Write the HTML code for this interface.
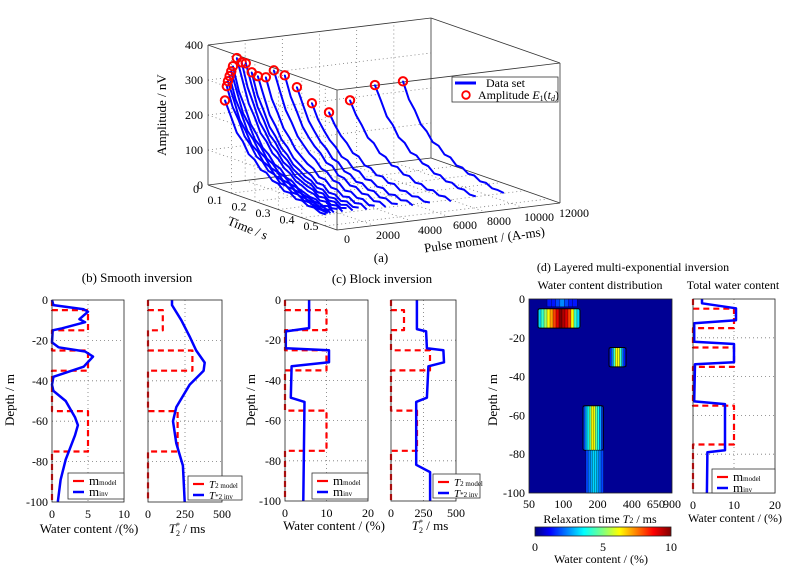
<!DOCTYPE html>
<html><head><meta charset="utf-8"><style>
html,body{margin:0;padding:0;background:#fff;}
svg{display:block;font-family:"Liberation Serif",serif;}
</style></head><body>
<svg id="fig" width="810" height="567" viewBox="0 0 810 567" xmlns="http://www.w3.org/2000/svg">
<defs>
<linearGradient id="jetg" x1="0" x2="1" y1="0" y2="0">
<stop offset="0" stop-color="#000080"/><stop offset="0.11" stop-color="#0000ff"/><stop offset="0.36" stop-color="#00ffff"/><stop offset="0.5" stop-color="#80ff80"/><stop offset="0.62" stop-color="#ffff00"/><stop offset="0.87" stop-color="#ff0000"/><stop offset="1" stop-color="#800000"/>
</linearGradient>
</defs>
</svg>
<script>
// ===== Panel (a) data =====
const pulseMoments = [660,760,820,910,1000,1090,1300,1560,1780,2100,2430,2860,3290,3880,4530,5340,6260,7390,8730,10240];
const initialAmps = [242,282,296,310,323,337,359,345,341,313,300,294,311,293,255,204,172,199,234,235];
const decayFactor = [1,0.82,0.68,0.57,0.48,0.41,0.35,0.3,0.26,0.22,0.19,0.165,0.14,0.12,0.105,0.09,0.08,0.07];
const noiseNv = [0,4,-3,5,-4,3,-5,4,-3,4,-4,3,-3,4,-2,3,-3,0];
const ampTicks = [0,100,200,300,400];
const timeTicks = [0.1,0.2,0.3,0.4,0.5];
const pulseTicks = [0,2000,4000,6000,8000,10000,12000];
// ===== Panel (b)/(c)/(d) data =====
const modelDepths = [0,-5,-15,-25,-35,-55,-75,-100];
const modelWc5 = [0,5,0,5,0,5,0];
const modelWc10 = [0,10,0,10,0,10,0];
const modelT2 = [0,100,0,300,0,200,0];
const smoothWcDepth = [0,-2.5,-4.6,-5.8,-9.5,-11,-14,-15,-21,-23.4,-25.5,-28,-33,-38,-42,-45,-50,-58,-62,-67,-79,-89,-100];
const smoothWcVal = [0,0.2,4.4,5,3.8,4.6,1.4,0.1,0,0.9,4.6,5.7,4.4,0.2,0,0.2,1.9,3.2,3.6,3.2,1.9,1.2,0.8];
const smoothT2Depth = [0,-2.5,-10,-18,-25,-31,-35,-42,-53,-60,-71,-82,-100];
const smoothT2Val = [162,162,225,281,326,383,376,281,191,169,191,236,248];
const blockWcDepth = [0,-14,-15.6,-24,-25,-31,-33,-48.6,-50.7,-100];
const blockWcVal = [5.8,5.8,0.2,0.2,10.6,10.6,1.6,1.4,4.7,4.4];
const blockT2Depth = [0,-14.5,-15.6,-24,-25,-31,-33,-48.6,-50.7,-82,-85.6,-100];
const blockT2Val = [199,199,270,276,403,408,288,276,194,194,301,301];
const totalWcDepth = [0,-2.2,-4.8,-11,-12.5,-22,-23.2,-32.6,-33.6,-52.8,-54.2,-78,-79,-100];
const totalWcVal = [2.2,2.2,10.5,10.5,0.3,0.3,10,10,0.5,0.3,7.8,7.8,3.5,3.4];
// heat map blobs: depth range, T2 range, column values (%)
const blobTops = [0,-5,-25,-55,-78];
const blobBottoms = [-4,-15,-35,-78,-100];
const blobT2Lo = [72,60,252,149,158];
const blobT2Hi = [132,140,355,224,224];
const blobValues = [
  [1,1,1.5,2.2,1.5,1,1],
  [3,4,5,6,7,8,9,10,9.5,9,8,6,4,3],
  [1,2,4,6,6,4,2,1],
  [1.5,2.5,3.5,4.5,6,6,4.5,3.5,2.5,1.5],
  [1.5,2,2.5,3,3,2.5,2,1.5]
];
const depthTicks = [0,-20,-40,-60,-80,-100];
const t2LogTicks = [50,100,200,400,650,900];
const cbarTicks = [0,5,10];

const NS = "http://www.w3.org/2000/svg";
const svg = document.getElementById('fig');
function el(tag, attrs, name, parent){
  const e = document.createElementNS(NS, tag);
  for (const k in attrs) e.setAttribute(k, attrs[k]);
  
  
  (parent||svg).appendChild(e);
  return e;
}
function line(x1,y1,x2,y2,name,stroke,w,dash){
  const a = {x1:x1,y1:y1,x2:x2,y2:y2,stroke:stroke||'#000','stroke-width':w||1};
  if (dash) a['stroke-dasharray']=dash;
  return el('line',a,name);
}
function text(x,y,s,name,anchor,size,rot){
  const a = {x:x,y:y,'font-size':size||12,'text-anchor':anchor||'middle',fill:'#000'};
  if (rot) a.transform = 'rotate('+rot+' '+x+' '+y+')';
  const t = el('text',a,name);
  t.textContent = s;
  return t;
}
function span(t,s,attrs){
  const a=document.createElementNS(NS,'tspan');
  for (const k in attrs) a.setAttribute(k,attrs[k]);
  a.textContent=s; t.appendChild(a); return a;
}
function poly(pts,name,stroke,w,dash,fill){
  const a = {points:pts.map(p=>p[0].toFixed(1)+','+p[1].toFixed(1)).join(' '),stroke:stroke,'stroke-width':w,fill:fill||'none','stroke-linejoin':'round'};
  if (dash) a['stroke-dasharray']=dash;
  return el('polyline',a,name);
}

// ===== Panel (a): 3D =====
const O = [208,185], TV=[129,45], QV=[223,-27], AH=140;
function P(t,q,A){ return [O[0]+t/0.55*TV[0]+q/12000*QV[0], O[1]+t/0.55*TV[1]+q/12000*QV[1]-A/400*AH]; }
const gd = '1,3', gc = '#777';
for (const A of ampTicks.slice(1,-1)){
  let a=P(0,0,A), b=P(0.55,0,A); line(a[0],a[1],b[0],b[1],'grid-left-wall',gc,0.8,gd);
  a=P(0,0,A); b=P(0,12000,A); line(a[0],a[1],b[0],b[1],'grid-back-wall',gc,0.8,gd);
}
for (const t of timeTicks){
  let a=P(t,0,0), b=P(t,0,400); line(a[0],a[1],b[0],b[1],'grid-left-wall',gc,0.8,gd);
  a=P(t,0,0); b=P(t,12000,0); line(a[0],a[1],b[0],b[1],'grid-floor',gc,0.8,gd);
}
for (const q of pulseTicks.slice(1,-1)){
  let a=P(0,q,0), b=P(0,q,400); line(a[0],a[1],b[0],b[1],'grid-back-wall',gc,0.8,gd);
  a=P(0,q,0); b=P(0.55,q,0); line(a[0],a[1],b[0],b[1],'grid-floor',gc,0.8,gd);
}
const boxEdges = [[[0,0,0],[0.55,0,0]],[[0.55,0,0],[0.55,12000,0]],[[0,0,0],[0,12000,0]],[[0,12000,0],[0.55,12000,0]],
 [[0,0,0],[0,0,400]],[[0,12000,0],[0,12000,400]],[[0.55,12000,0],[0.55,12000,400]],[[0.55,0,0],[0.55,0,400]],
 [[0,0,400],[0.55,0,400]],[[0.55,0,400],[0.55,12000,400]],[[0.55,12000,400],[0,12000,400]],[[0,12000,400],[0,0,400]]];
for (const e of boxEdges){ const a=P(...e[0]), b=P(...e[1]); line(a[0],a[1],b[0],b[1],'axes-box-edge','#333',0.8); }
const tStart=0.02, tEnd=0.45;
pulseMoments.forEach((q,i)=>{
  const pts = decayFactor.map((f,k)=>{ const t=tStart+(tEnd-tStart)*k/(decayFactor.length-1); return P(t,q,initialAmps[i]*f+noiseNv[(k+i)%noiseNv.length]*(k>0?1:0)); });
  poly(pts,'data-set-curve','#0000ff',2);
});
pulseMoments.forEach((q,i)=>{
  const p=P(tStart,q,initialAmps[i]);
  el('circle',{cx:p[0],cy:p[1],r:4.2,fill:'none',stroke:'#ff0000','stroke-width':2},'amplitude-marker');
  el('circle',{cx:p[0],cy:p[1],r:0.9,fill:'#0000ff'},'amplitude-marker-dot');
});
ampTicks.forEach(A=>{ const p=P(0,0,A); text(p[0]-5,p[1]+4,String(A),'z-tick-label','end',12); });
text(199,193,'0','z-tick-label','end',12);
timeTicks.forEach((t,i)=>{ text(215+i*24,204+i*6.5,String(t),'time-tick-label','middle',12); });
pulseTicks.forEach((q,i)=>{ const xs=[347,388,430,465,499,539,574], ys=[243,239,234,229,225,221,217]; text(xs[i],ys[i],String(q),'pulse-tick-label','middle',12); });
text(246,232,'Time / s','time-axis-title','middle',13,22);
text(485,244,'Pulse moment / (A-ms)','pulse-axis-title','middle',13,-8);
text(166,115,'Amplitude / nV','amplitude-axis-title','middle',13,-90);
text(381,262,'(a)','panel-a-label','middle',13);
el('rect',{x:452,y:77,width:106,height:25,fill:'#fff',stroke:'#333','stroke-width':0.8},'legend-box');
line(455,83,476,83,'legend-data-set-line','#0000ff',3);
text(486,87,'Data set','legend-data-set-label','start',12);
el('circle',{cx:466,cy:95,r:3.8,fill:'none',stroke:'#ff0000','stroke-width':1.8},'legend-amplitude-marker');
const lt=text(478,99,'Amplitude ','legend-amplitude-label','start',12);
span(lt,'E',{'font-style':'italic'});
span(lt,'1',{'font-size':8,dy:2});
span(lt,'(',{dy:-2});
span(lt,'t',{'font-style':'italic'});
span(lt,'d',{'font-size':8,dy:2,'font-style':'italic'});
span(lt,')',{dy:-2});

// ===== Profile plots =====
function profile(cfg){
  const {x0,x1,y0,y1,xmax,xticks,midTick,ylabels,name} = cfg;
  const X = v => x0 + v/xmax*(x1-x0);
  const Y = d => y0 + (-d)/100*(y1-y0);
  for (const d of depthTicks.slice(1,-1)) line(x0,Y(d),x1,Y(d),name+'-grid',gc,0.8,gd);
  line(X(midTick),y0,X(midTick),y1,name+'-grid',gc,0.8,gd);
  const mp=[];
  cfg.model.forEach((v,i)=>{ mp.push([X(v),Y(modelDepths[i])]); mp.push([X(v),Y(modelDepths[i+1])]); });
  poly(mp,name+'-model-line','#ff0000',2.2,'6,4');
  poly(cfg.invD.map((d,i)=>[X(cfg.invV[i]),Y(d)]),name+'-inv-line','#0000ff',2.5);
  el('rect',{x:x0,y:y0,width:x1-x0,height:y1-y0,fill:'none',stroke:'#222','stroke-width':0.8},name+'-frame');
  if (ylabels) depthTicks.forEach(d=>text(x0-4,Y(d)+4,String(d),name+'-y-tick','end',12));
  if (xticks) xticks.forEach(v=>text(X(v),y1+16,String(v),name+'-x-tick','middle',12));
}
function legend(x,y,w,h,l1,s1,l2,s2,name,t2){
  el('rect',{x:x,y:y,width:w,height:h,fill:'#fff',stroke:'#333','stroke-width':0.8},name);
  line(x+5,y+8,x+16,y+8,name+'-model-swatch','#ff0000',2.2);
  line(x+5,y+19,x+16,y+19,name+'-inv-swatch','#0000ff',2.5);
  [[l1,s1,y+12],[l2,s2,y+23]].forEach(([l,s,yy])=>{
    const t=text(x+21,yy,'',name+'-entry','start',t2?11:13);
    span(t,l,t2?{'font-style':'italic'}:{});
    span(t,s,{'font-size':7});
  });
}
function t2Title(x,y,name){
  const t=text(x,y,'',name,'middle',13);
  span(t,'T',{'font-style':'italic'});
  span(t,'*',{'font-size':8,dy:-5});
  span(t,'2',{'font-size':8,dx:-4,dy:8});
  span(t,' / ms',{dy:-3});
}
// (b)
text(137,282,'(b) Smooth inversion','panel-b-title','middle',13);
profile({x0:52,x1:124,y0:300,y1:502,xmax:10,xticks:[0,5,10],midTick:5,ylabels:true,name:'smooth-wc',model:modelWc5,invD:smoothWcDepth,invV:smoothWcVal});
profile({x0:148,x1:222,y0:300,y1:502,xmax:500,xticks:[0,250,500],midTick:250,ylabels:false,name:'smooth-t2',model:modelT2,invD:smoothT2Depth,invV:smoothT2Val});
legend(68,473,56,26,'m','model','m','inv','smooth-wc-legend');
legend(188,476,54,24,'T','2 model','T','*2 inv','smooth-t2-legend',true);
text(14,400,'Depth / m','smooth-depth-title','middle',13,-90);
text(89,533,'Water content /(%)','smooth-wc-x-title','middle',13);
t2Title(187,533,'smooth-t2-x-title');
// (c)
text(382,283,'(c) Block inversion','panel-c-title','middle',13);
profile({x0:285,x1:368,y0:300,y1:501,xmax:20,xticks:[0,10,20],midTick:10,ylabels:true,name:'block-wc',model:modelWc10,invD:blockWcDepth,invV:blockWcVal});
profile({x0:391,x1:456,y0:300,y1:501,xmax:500,xticks:[0,250,500],midTick:250,ylabels:false,name:'block-t2',model:modelT2,invD:blockT2Depth,invV:blockT2Val});
legend(312,473,56,26,'m','model','m','inv','block-wc-legend');
legend(433,474,47,24,'T','2 model','T','*2 inv','block-t2-legend',true);
text(255,400,'Depth / m','block-depth-title','middle',13,-90);
text(334,530,'Water content / (%)','block-wc-x-title','middle',13);
t2Title(430,530,'block-t2-x-title');
// (d)
text(633,271,'(d) Layered multi-exponential inversion','panel-d-title','middle',12);
text(600,289,'Water content distribution','heatmap-title','middle',12);
text(733,289,'Total water content','total-wc-title','middle',12);
const hx0=529,hx1=672,hy0=299,hy1=493;
const LX = T => hx0 + Math.log(T/50)/Math.log(900/50)*(hx1-hx0);
const HY = d => hy0 + (-d)/100*(hy1-hy0);
function jet(v){ const c=x=>Math.round(255*Math.max(0,Math.min(1,x)));
  return 'rgb('+c(1.5-Math.abs(4*v-3))+','+c(1.5-Math.abs(4*v-2))+','+c(1.5-Math.abs(4*v-1))+')'; }
el('rect',{x:hx0,y:hy0,width:hx1-hx0,height:hy1-hy0,fill:jet(0.02)},'heatmap-background');
blobValues.forEach((vals,b)=>{
  const xa=LX(blobT2Lo[b]), xb=LX(blobT2Hi[b]), w=(xb-xa)/vals.length;
  vals.forEach((v,k)=>{ el('rect',{x:xa+k*w,y:HY(blobTops[b]),width:w+0.3,height:HY(blobBottoms[b])-HY(blobTops[b]),fill:jet(0.05+v/10*0.95),stroke:'#000','stroke-width':0.3},'heatmap-cell'); });
  if (b!==0 && b!==4) el('rect',{x:xa,y:HY(blobTops[b]),width:xb-xa,height:HY(blobBottoms[b])-HY(blobTops[b]),fill:'none',stroke:'#000','stroke-width':1,rx:2},'heatmap-layer-outline');
});
el('rect',{x:hx0,y:hy0,width:hx1-hx0,height:hy1-hy0,fill:'none',stroke:'#222','stroke-width':0.8},'heatmap-frame');
depthTicks.forEach(d=>text(hx0-4,HY(d)+4,String(d),'heatmap-y-tick','end',12));
t2LogTicks.forEach(T=>text(LX(T),hy1+15,String(T),'heatmap-x-tick','middle',12));
text(497,400,'Depth / m','heatmap-depth-title','middle',13,-90);
const rt=text(600,523,'Relaxation time ','heatmap-x-title','middle',12);
span(rt,'T',{'font-style':'italic'});
span(rt,'2',{'font-size':8});
span(rt,' / ms',{});
el('rect',{x:535,y:527,width:136,height:9,fill:'url(#jetg)',stroke:'#222','stroke-width':0.8},'colorbar');
cbarTicks.forEach(v=>text(535+v/10*136,551,String(v),'colorbar-tick','middle',12));
text(601,563,'Water content / (%)','colorbar-title','middle',12);
profile({x0:693,x1:775,y0:299,y1:493,xmax:20,xticks:[0,10,20],midTick:10,ylabels:false,name:'total-wc',model:modelWc10,invD:totalWcDepth,invV:totalWcVal});
legend(712,469,63,24,'m','model','m','inv','total-wc-legend');
text(735,522,'Water content / (%)','total-wc-x-title','middle',12);
</script>
</body></html>
